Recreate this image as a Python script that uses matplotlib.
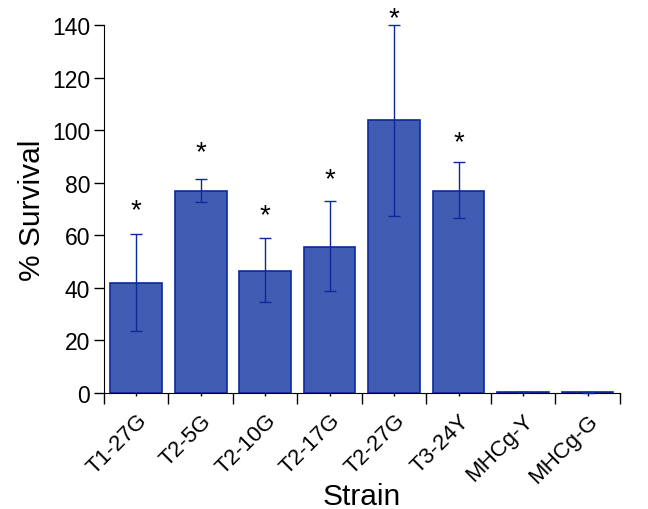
import numpy as np
import matplotlib.pyplot as plt
from matplotlib.ticker import FixedLocator, NullFormatter

plt.rcParams['font.family'] = ['Liberation Sans', 'DejaVu Sans']

# =========================
# DATA
# =========================
strains = ["T1-27G", "T2-5G", "T2-10G", "T2-17G", "T2-27G", "T3-24Y", "MHCg-Y", "MHCg-G"]
survival = [41.8, 76.8, 46.5, 55.5, 103.7, 77.0, 0.5, 0.5]
err_low = [18.3, 4.3, 12.0, 16.7, 36.5, 10.5, 0.0, 0.4]
err_high = [18.8, 4.7, 12.5, 17.5, 36.3, 11.0, 0.0, 0.0]
significant = [True, True, True, True, True, True, False, False]
star_y = [69.5, 91.5, 67.5, 81.5, 142.5, 95.5, None, None]

fill_col = "#415cb3"
edge_col = "#0a2a9c"

# =========================
# PLOT
# =========================
fig = plt.figure(figsize=(6.48, 5.10), dpi=100)
ax = fig.add_axes([0.1605, 0.2275, 0.796, 0.7215])

x = np.arange(len(strains))
ax.bar(x, survival, width=0.8, color=fill_col, edgecolor=edge_col, linewidth=1.2, zorder=2)
ax.errorbar(x, survival, yerr=[err_low, err_high], fmt="none", ecolor=edge_col,
            elinewidth=1.0, capsize=4.5, capthick=1.0, zorder=3, clip_on=False)

for xi, sig, sy in zip(x, significant, star_y):
    if sig:
        ax.text(xi, sy, "*", ha="center", va="center", fontsize=20, color="black")

ax.set_xlim(-0.5, len(strains) - 0.5)
ax.set_ylim(0, 140)
ax.set_yticks(np.arange(0, 141, 20))
ax.tick_params(axis="y", labelsize=16.5, length=7, width=1, direction="out", pad=3)

# major ticks at category borders, minor ticks under the bars
ax.xaxis.set_major_locator(FixedLocator(np.arange(-0.5, len(strains), 1.0)))
ax.xaxis.set_major_formatter(NullFormatter())
ax.xaxis.set_minor_locator(FixedLocator(x))
ax.set_xticklabels(strains, minor=True, rotation=45, ha="right", rotation_mode="anchor", fontsize=16)
ax.tick_params(axis="x", which="major", length=8, width=1)
ax.tick_params(axis="x", which="minor", length=2, width=1, pad=10)

ax.spines["top"].set_visible(False)
ax.spines["right"].set_visible(False)

ax.set_ylabel("% Survival", fontsize=21.5, labelpad=4)
ax.set_xlabel("Strain", fontsize=21.5)
ax.xaxis.set_label_coords(0.5, -0.243)

fig.savefig("out.png", dpi=100)
